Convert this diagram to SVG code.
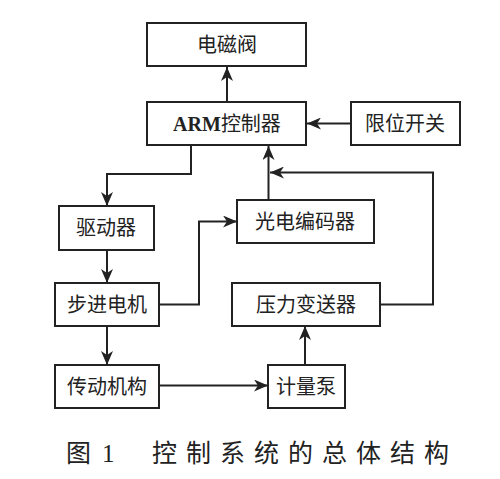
<svg xmlns="http://www.w3.org/2000/svg" width="500" height="479" viewBox="0 0 500 479">
<defs>
<marker id="ah" markerUnits="userSpaceOnUse" markerWidth="14" markerHeight="12" refX="14" refY="6" orient="auto">
<path d="M0,0 L14,6 L0,12 L4,6 z" fill="#222"/>
</marker>
<style>
.box{fill:#fff;stroke:#222;stroke-width:2}
.t{font-family:"Noto Sans CJK SC",sans-serif;font-size:20px;fill:#222;text-anchor:middle}
.c{fill:none;stroke:#222;stroke-width:2;marker-end:url(#ah)}
.cap{font-family:"Noto Sans CJK SC",sans-serif;font-size:25px;fill:#222}
</style>
</defs>
<rect width="500" height="479" fill="#fff"/>
<g id="valve"><rect class="box" x="147" y="23" width="159" height="43"/><text class="t" x="227" y="52">电磁阀</text></g>
<g id="arm"><rect class="box" x="147" y="102" width="159" height="43"/><text class="t" x="227" y="131"><tspan font-family="Liberation Serif" font-weight="bold">ARM</tspan>控制器</text></g>
<g id="limit"><rect class="box" x="351" y="102" width="109" height="43"/><text class="t" x="405" y="131">限位开关</text></g>
<g id="driver"><rect class="box" x="59" y="206" width="95" height="44"/><text class="t" x="106" y="235">驱动器</text></g>
<g id="encoder"><rect class="box" x="237" y="200" width="137" height="43"/><text class="t" x="305" y="229">光电编码器</text></g>
<g id="motor"><rect class="box" x="55" y="283" width="104" height="43"/><text class="t" x="107" y="312">步进电机</text></g>
<g id="pressure"><rect class="box" x="232" y="283" width="148" height="43"/><text class="t" x="306" y="312">压力变送器</text></g>
<g id="transmission"><rect class="box" x="55" y="365" width="104" height="43"/><text class="t" x="107" y="394">传动机构</text></g>
<g id="pump"><rect class="box" x="268" y="365" width="77" height="43"/><text class="t" x="306" y="394">计量泵</text></g>
<g id="connectors">
<path class="c" d="M227,102 V67"/>
<path class="c" d="M351,123.5 H307"/>
<path class="c" d="M191,145 V174 H107 V206"/>
<path class="c" d="M107,250 V283"/>
<path class="c" d="M107,326 V365"/>
<path class="c" d="M159,385.5 H268"/>
<path class="c" d="M305,365 V326"/>
<path class="c" d="M159,304.5 H199 V221.5 H237"/>
<path class="c" d="M268.5,200 V146"/>
<path class="c" d="M380,304.5 H433 V172.5 H270"/>
</g>
<text class="cap" y="462"><tspan x="66">图</tspan><tspan x="102" font-family="Liberation Serif">1</tspan><tspan x="152 186 220 254 288 322 356 390 424">控制系统的总体结构</tspan></text>
</svg>
